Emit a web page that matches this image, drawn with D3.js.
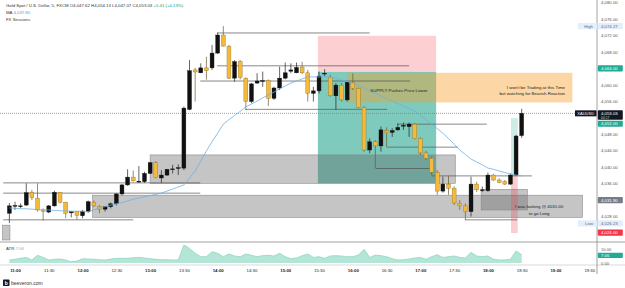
<!DOCTYPE html>
<html><head><meta charset="utf-8">
<script src="https://cdn.jsdelivr.net/npm/d3@7"></script>
<style>body{margin:0;background:#fff}svg{display:block;font-family:"Liberation Sans",Arial,sans-serif}</style>
</head><body><svg id="c" width="625" height="288"></svg>
<script>
// ---------- data ----------
const startTime = "10:55";
const opens = [4028.7,4030.4,4030.3,4030.7,4033.8,4032.3,4029.5,4029.0,4030.5,4033.8,
4031.4,4028.8,4029.1,4028.1,4029.1,4031.4,4030.4,4029.7,4030.3,4031.0,
4033.4,4035.6,4037.5,4036.4,4036.4,4038.4,4041.0,4037.3,4038.0,4039.4,
4039.7,4039.7,4054.0,4063.6,4062.9,4064.1,4064.1,4067.7,4072.1,4069.3,
4061.6,4065.6,4061.6,4055.9,4060.4,4060.9,4061.0,4056.7,4059.2,4061.6,
4063.3,4062.9,4064.3,4062.9,4057.9,4058.5,4062.7,4061.8,4057.3,4059.9,
4056.3,4060.5,4059.1,4054.5,4044.1,4046.1,4045.1,4048.8,4048.4,4049.0,
4050.0,4049.8,4050.4,4046.9,4043.4,4042.1,4038.7,4034.1,4035.8,4034.8,
4031.1,4030.5,4029.1,4035.8,4034.3,4034.2,4038.0,4036.8,4036.4,4035.8,
4038.0,4047.62];
const highs = [4031.2,4031.5,4031.1,4036.0,4034.4,4036.0,4029.9,4030.7,4034.2,4033.9,
4031.5,4029.2,4029.2,4029.5,4031.8,4031.8,4030.7,4030.5,4031.3,4033.6,
4035.8,4039.4,4039.1,4040.2,4038.8,4041.2,4041.4,4039.2,4039.5,4040.5,
4040.6,4054.7,4066.0,4064.1,4065.2,4066.8,4069.7,4072.7,4074.27,4069.7,
4066.0,4066.0,4061.8,4060.4,4062.8,4063.2,4061.3,4059.5,4064.4,4065.4,
4065.2,4065.4,4065.6,4063.6,4059.5,4063.2,4063.8,4062.4,4060.4,4060.4,
4060.7,4062.8,4059.3,4054.8,4046.9,4046.5,4049.8,4049.6,4049.4,4050.6,
4050.8,4050.8,4050.6,4047.2,4043.9,4042.5,4039.2,4037.6,4037.8,4035.3,
4031.9,4031.1,4037.6,4036.4,4035.2,4038.6,4038.3,4037.2,4036.8,4038.4,
4047.8,4054.13];
const lows = [4026.3,4029.5,4029.9,4030.5,4031.9,4029.1,4026.9,4028.7,4030.3,4031.1,
4027.5,4027.7,4027.2,4027.5,4028.8,4030.2,4028.7,4029.1,4029.9,4030.6,
4033.1,4035.4,4036.4,4036.1,4036.1,4038.3,4037.2,4036.1,4037.8,4038.4,
4038.0,4039.2,4053.8,4055.9,4062.8,4061.2,4063.6,4067.5,4069.3,4061.4,
4060.7,4061.3,4053.9,4055.5,4060.2,4059.5,4054.8,4056.3,4058.7,4061.3,
4062.8,4062.8,4062.6,4055.9,4055.9,4057.9,4062.1,4057.1,4053.9,4055.9,
4055.9,4058.7,4054.3,4043.7,4043.3,4039.6,4043.7,4044.8,4047.3,4048.8,
4049.0,4047.3,4046.7,4042.9,4041.7,4038.0,4033.2,4033.7,4033.2,4030.7,
4029.5,4027.1,4027.9,4033.9,4033.9,4033.9,4036.6,4036.0,4035.6,4035.6,
4037.8,4047.07];
const closes = [4030.5,4030.6,4030.5,4033.7,4032.5,4029.5,4029.2,4030.5,4033.8,4031.4,
4028.7,4029.1,4028.2,4029.1,4031.5,4030.5,4029.7,4030.3,4031.0,4033.4,
4035.6,4037.5,4036.6,4036.5,4038.4,4041.0,4037.4,4038.0,4039.4,4039.5,
4039.8,4054.3,4063.4,4063.1,4064.1,4063.4,4067.7,4072.1,4069.4,4061.6,
4065.6,4061.8,4055.9,4060.2,4060.9,4061.0,4056.7,4059.2,4061.6,4062.9,
4063.6,4064.2,4062.9,4057.9,4058.5,4062.1,4062.8,4057.3,4059.9,4056.3,
4060.6,4059.1,4054.5,4044.1,4046.1,4045.1,4049.0,4048.3,4048.8,4049.6,
4050.1,4050.4,4046.9,4043.4,4042.1,4038.7,4034.1,4035.8,4034.8,4031.2,
4030.5,4029.1,4035.8,4034.4,4034.4,4038.0,4036.8,4036.2,4035.8,4038.0,
4047.5,4053.03];
const maVals = [4030.0,4029.9,4029.8,4029.8,4029.7,4029.6,4029.5,4029.5,4029.4,4029.3,
4029.3,4029.2,4029.2,4029.2,4029.1,4029.5,4030.0,4030.3,4030.7,4031.0,
4031.3,4031.7,4032.1,4032.4,4032.7,4033.0,4033.3,4033.6,4034.1,4034.6,
4035.1,4035.6,4037.3,4039.0,4041.4,4043.9,4046.1,4048.2,4050.4,4051.5,
4052.5,4053.5,4054.6,4055.3,4056.0,4056.8,4057.5,4058.2,4059.0,4059.7,
4060.4,4060.9,4061.4,4061.9,4061.9,4061.9,4061.9,4061.9,4061.5,4061.2,
4060.8,4060.4,4059.8,4059.2,4058.5,4057.9,4057.3,4056.6,4056.0,4055.4,
4054.8,4054.2,4053.6,4052.5,4051.5,4050.4,4049.3,4048.2,4046.9,4045.5,
4044.1,4043.0,4041.9,4041.2,4040.5,4039.7,4039.4,4039.0,4038.6,4038.3,
4038.0,4037.8];
const atrVals = [2.6,3.2,4.0,4.8,2.6,6.6,4.8,2.6,3.2,3.4,
2.6,1.1,1.7,3.7,3.4,3.2,2.8,2.6,3.4,4.0,
4.0,4.0,4.5,4.8,4.3,3.7,3.2,2.8,2.8,2.6,
2.6,15.4,12.5,8.3,5.4,5.4,9.7,8.3,5.4,7.7,
6.0,5.4,7.7,6.6,5.4,6.3,6.6,6.0,8.3,5.4,
3.7,4.3,6.3,7.7,4.8,5.4,4.0,6.0,6.3,6.0,
5.4,5.4,6.8,11.7,4.8,6.8,6.3,5.4,3.7,2.6,
2.8,3.4,4.3,4.8,3.2,5.4,7.1,4.8,5.4,6.0,
4.8,4.3,9.1,6.0,5.4,6.0,3.2,2.6,2.6,3.2,
10.3,7.06];
// 4052 is hidden behind the price tags in the reference
const priceTicks = [4024,4028,4032,4036,4040,4044,4048,4056,4060,4064,4068,4072,4076,4080];
const timeTickLabels = ["11:00","11:30","12:00","12:30","13:00","13:30","14:00","14:30","15:00","15:30","16:00","16:30","17:00","17:30","18:00","18:30","19:00","19:30"];
const atrTicks = [0,10];
// drawings (time, price)
const shortTool = {t0:"15:29", t1:"17:14", stop:4071.9, entry:4063.1, target:4036.0};
const longTool = {t0:"18:20.5", t1:"18:26.5", target:4051.9, entry:4037.8, stop:4023.9};
const orangeZone = {t0:"15:55", t1:"19:15", top:4062.9, bottom:4055.7};
const greyZones = [
  {t0:"13:00", t1:"17:31", top:4042.9, bottom:4036.0},
  {t0:"12:09", t1:"19:24", top:4033.1, bottom:4027.7},
  {t0:"17:54", t1:"18:35", top:4034.5, bottom:4029.5},
  {t0:"10:49", t1:"10:55.5", top:4025.8, bottom:4022.2}
];
const levels = [
  {p:4072.6, t0:"13:59.5", t1:"16:15"},
  {p:4064.6, t0:"13:59.5", t1:"16:50"},
  {p:4060.9, t0:"13:44.5", t1:"16:51"},
  {p:4054.0, t0:"14:24.5", t1:"16:30.5"},
  {p:4050.4, t0:"16:39.5", t1:"17:59"},
  {p:4044.8, t0:"16:30.5", t1:"17:33.5"},
  {p:4039.6, t0:"16:20.5", t1:"17:10"},
  {p:4037.8, t0:"17:10", t1:"18:39"},
  {p:4036.1, t0:"10:49.5", t1:"13:44.5"},
  {p:4033.6, t0:"10:49.5", t1:"13:44.5"},
  {p:4027.1, t0:"10:49.5", t1:"12:45"},
  {p:4027.1, t0:"17:39.5", t1:"18:26"}
];
const notes = [
  {t:"16:41", p:4058.5, text:"SUPPLY Pushes Price Lower", anchor:"middle"},
  {t:"19:08.5", p:4059.4, text:"I won't be Trading at this Time", anchor:"end"},
  {t:"19:08.5", p:4057.9, text:"but watching for Bearish Reaction", anchor:"end"},
  {t:"18:45.5", p:4030.3, text:"I was looking @ 4031.00", anchor:"middle"},
  {t:"18:45.5", p:4028.7, text:"to go Long", anchor:"middle"}
];
const tags = [
  {p:4064.00, bg:"#22ab94", shift:0},
  {p:4052.00, bg:"#22ab94", shift:6.2},
  {p:4031.90, bg:"#787b86", shift:0},
  {p:4024.00, bg:"#f23645", shift:0}
];
const hiLo = [{p:4074.27, label:"High"},{p:4026.23, label:"Low"}];
const header = {sym:"Gold Spot / U.S. Dollar, 5, FXCM", o:"4,047.62", h:"4,054.13", l:"4,047.07", c:"4,053.03", chg:"+5.41 (+0.13%)"};

// ---------- scales ----------
const svg = d3.select("#c");
const axisX = 597, paneBottom = 242;
const tm = s => { const [h,m] = s.split(":").map(Number); return new Date(new Date(2025,0,2,h,0,0,0).getTime() + m*60000); };
const t0 = tm(startTime).getTime();
const times = closes.map((_,i)=> new Date(t0 + i*300000));
const x = d3.scaleTime().domain([tm("11:00"), tm("18:30")]).range([15, 521.7]);
const X = s => x(tm(s));
const y = d3.scaleLinear().domain([4048,4076]).range([134,19]);
const ya = d3.scaleLinear().domain([0,10]).range([263,251.3]);
const fmt = d3.format(",.2f");

svg.append("defs").append("clipPath").attr("id","pc").append("rect").attr("x",0).attr("y",0).attr("width",axisX).attr("height",paneBottom);
const pane = svg.append("g").attr("clip-path","url(#pc)");

// zones
const zr = (g,t0s,t1s,p0,p1) => g.append("rect").attr("x",X(t0s)).attr("width",X(t1s)-X(t0s))
  .attr("y",y(Math.max(p0,p1))).attr("height",Math.abs(y(p0)-y(p1)));
zr(pane,shortTool.t0,shortTool.t1,shortTool.stop,shortTool.entry).attr("fill","rgba(242,54,69,0.24)");
zr(pane,shortTool.t0,shortTool.t1,shortTool.entry,shortTool.target).attr("fill","rgba(8,153,129,0.52)");
zr(pane,orangeZone.t0,orangeZone.t1,orangeZone.top,orangeZone.bottom).attr("fill","rgba(247,160,40,0.42)");
greyZones.forEach(z=> zr(pane,z.t0,z.t1,z.top,z.bottom).attr("fill","rgba(95,95,95,0.36)").attr("stroke","#8a8a8a").attr("stroke-width",0.6));
zr(pane,longTool.t0,longTool.t1,longTool.target,longTool.entry).attr("fill","rgba(8,153,129,0.2)");
zr(pane,longTool.t0,longTool.t1,longTool.entry,longTool.stop).attr("fill","rgba(242,54,69,0.25)");

// levels
pane.selectAll("line.lv").data(levels).join("line").attr("class","lv")
  .attr("x1",d=>X(d.t0)).attr("x2",d=>X(d.t1)).attr("y1",d=>y(d.p)).attr("y2",d=>y(d.p))
  .attr("stroke","#555").attr("stroke-width",0.7);

// last price dotted line
pane.append("line").attr("x1",0).attr("x2",575).attr("y1",y(closes[closes.length-1])).attr("y2",y(closes[closes.length-1]))
  .attr("stroke","#777").attr("stroke-width",0.7).attr("stroke-dasharray","1,1");

// candles
const bw = 3.9;
const cg = pane.append("g");
times.forEach((t,i)=>{
  const up = closes[i] >= opens[i];
  const cx = x(t);
  cg.append("line").attr("x1",cx).attr("x2",cx).attr("y1",y(highs[i])).attr("y2",y(lows[i]))
    .attr("stroke", up ? "#222" : "#6b5a30").attr("stroke-width",0.7);
  const top = y(Math.max(opens[i],closes[i])), h = Math.max(0.8, Math.abs(y(opens[i])-y(closes[i])));
  cg.append("rect").attr("x",cx-bw/2).attr("width",bw).attr("y",top).attr("height",h)
    .attr("fill", up ? "#111" : "#f5b93c").attr("stroke", up ? "#111" : "#9a7423").attr("stroke-width",0.4);
});

// MA
pane.append("path").datum(maVals).attr("fill","none").attr("stroke","#6fb0e2").attr("stroke-width",0.8)
  .attr("d", d3.line().x((d,i)=>x(times[i])).y(d=>y(d)));

// notes
pane.selectAll("text.note").data(notes).join("text").attr("class","note")
  .attr("x",d=>X(d.t)).attr("y",d=>y(d.p)).attr("dy","0.35em").attr("text-anchor",d=>d.anchor)
  .attr("font-size",4.4).attr("fill","#222").text(d=>d.text);

// ---------- header ----------
const hd = svg.append("text").attr("x",6).attr("y",6.6).attr("font-size",4.3).attr("fill","#333");
hd.append("tspan").text(header.sym+" ");
[["O",header.o],["H",header.h],["L",header.l],["C",header.c]].forEach(([k,v])=>{
  hd.append("tspan").text(" "+k); hd.append("tspan").attr("fill","#333").text(v);
});
hd.append("tspan").attr("fill","#089981").text(" "+header.chg);
const ma = svg.append("text").attr("x",6).attr("y",14).attr("font-size",4.3).attr("fill","#333");
ma.append("tspan").text("MA ");
ma.append("tspan").attr("fill","#4aa0e0").text(fmt(maVals[maVals.length-1]));
svg.append("text").attr("x",6).attr("y",21.2).attr("font-size",4.3).attr("fill","#333").text("FX Sessions");

// ---------- panes / separators ----------
svg.append("line").attr("x1",0).attr("x2",625).attr("y1",paneBottom).attr("y2",paneBottom).attr("stroke","#8c8c8c").attr("stroke-width",0.8);
svg.append("line").attr("x1",0).attr("x2",625).attr("y1",265).attr("y2",265).attr("stroke","#c8c8c8").attr("stroke-width",0.7);
svg.append("line").attr("x1",axisX).attr("x2",axisX).attr("y1",0).attr("y2",274).attr("stroke","#8c8c8c").attr("stroke-width",0.8);

// ATR pane
const atrArea = d3.area().x((d,i)=>x(times[i])).y0(ya(0)).y1(d=>ya(d));
svg.append("path").datum(atrVals).attr("fill","#b3e6d7").attr("d",atrArea);
svg.append("path").datum(atrVals).attr("fill","none").attr("stroke","#86d3bd").attr("stroke-width",0.7)
  .attr("d",d3.line().x((d,i)=>x(times[i])).y(d=>ya(d)));
const at = svg.append("text").attr("x",6).attr("y",249.5).attr("font-size",4.3).attr("fill","#333");
at.append("tspan").text("ATR ");
at.append("tspan").attr("fill","#5fc4a8").text(atrVals[atrVals.length-1].toFixed(2));

// ---------- axes ----------
const yAxis = d3.axisRight(y).tickValues(priceTicks).tickSize(0).tickPadding(4).tickFormat(fmt);
const gy = svg.append("g").attr("transform",`translate(${axisX},0)`).call(yAxis);
gy.select(".domain").remove();
gy.selectAll("text").attr("font-size",4.3).attr("fill","#555").attr("font-family","Liberation Sans, Arial, sans-serif");

const aAxis = d3.axisRight(ya).tickValues(atrTicks).tickSize(0).tickPadding(4).tickFormat(d3.format(".2f"));
const ga = svg.append("g").attr("transform",`translate(${axisX},0)`).call(aAxis);
ga.select(".domain").remove();
ga.selectAll("text").attr("font-size",4.1).attr("fill","#555").attr("font-family","Liberation Sans, Arial, sans-serif")
  .attr("dy",d=>d>0?"-0.1em":"0.32em");

const xAxis = d3.axisBottom(x).tickValues(timeTickLabels.map(tm)).tickSize(0).tickPadding(3).tickFormat(d3.timeFormat("%H:%M"));
const gx = svg.append("g").attr("transform","translate(0,265.5)").call(xAxis);
gx.select(".domain").remove();
gx.selectAll("text").attr("font-size",4.3).attr("fill","#222").attr("font-family","Liberation Sans, Arial, sans-serif")
  .attr("font-weight",d=>d.getMinutes()===0?"bold":"normal");

// axis tags
const tag = (yy,txt,bg,fg,h=6.2) => {
  svg.append("rect").attr("x",axisX+0.8).attr("y",yy-h/2).attr("width",25).attr("height",h).attr("fill",bg).attr("rx",0.8);
  svg.append("text").attr("x",axisX+4).attr("y",yy).attr("dy","0.35em").attr("font-size",4.3).attr("fill",fg).text(txt);
};
hiLo.forEach(d=>{
  const yy = y(d.p);
  svg.append("rect").attr("x",578).attr("y",yy-3.1).attr("width",19).attr("height",6.2).attr("fill","#e3eefb");
  svg.append("text").attr("x",593).attr("y",yy).attr("dy","0.35em").attr("text-anchor","end").attr("font-size",4.3).attr("fill","#5a6b85").text(d.label);
  tag(yy, fmt(d.p), "#e3eefb", "#5a6b85");
});
// last price tag (black, with countdown)
const lp = closes[closes.length-1], ly = y(lp);
svg.append("rect").attr("x",axisX+0.8).attr("y",ly-3.2).attr("width",25).attr("height",9.6).attr("fill","#131722").attr("rx",0.8);
svg.append("text").attr("x",axisX+4).attr("y",ly).attr("dy","0.35em").attr("font-size",4.3).attr("fill","#fff").text(fmt(lp));
svg.append("text").attr("x",axisX+4).attr("y",ly+4).attr("dy","0.35em").attr("font-size",3.4).attr("fill","#ccc").text("00:17");
svg.append("rect").attr("x",575).attr("y",ly-3).attr("width",21.5).attr("height",6).attr("fill","#131722");
svg.append("text").attr("x",585.7).attr("y",ly).attr("dy","0.35em").attr("text-anchor","middle").attr("font-size",4).attr("fill","#fff").text("XAUUSD");
tags.forEach(d=> tag(y(d.p)+d.shift, fmt(d.p), d.bg, "#fff"));
tag(ya(atrVals[atrVals.length-1])+0.6, atrVals[atrVals.length-1].toFixed(2), "#22ab94", "#fff", 5.4);

// logo
svg.append("rect").attr("x",3).attr("y",279.5).attr("width",6.5).attr("height",6.5).attr("fill","#131722").attr("rx",0.8);
svg.append("text").attr("x",6.2).attr("y",283).attr("dy","0.35em").attr("text-anchor","middle").attr("font-size",5).attr("font-weight","bold").attr("fill","#fff").text("b");
svg.append("text").attr("x",11).attr("y",283).attr("dy","0.35em").attr("font-size",5).attr("fill","#333").text("beeveron.com");
</script></body></html>
